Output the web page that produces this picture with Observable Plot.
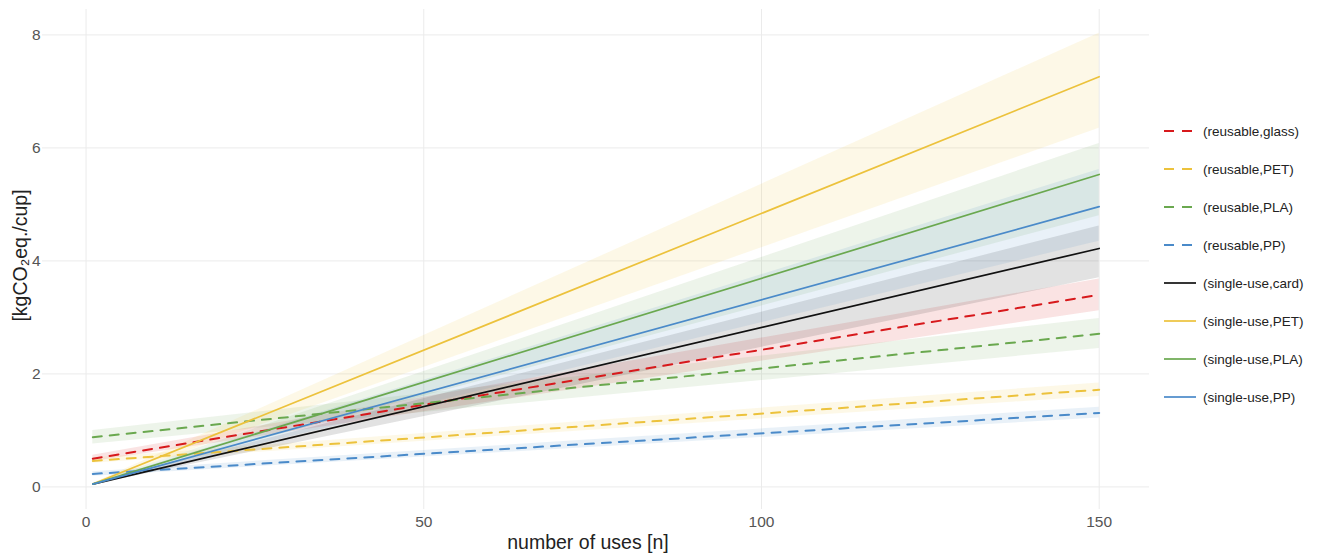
<!DOCTYPE html>
<html>
<head>
<meta charset="utf-8">
<script src="https://cdn.jsdelivr.net/npm/d3@7"></script>
<script src="https://cdn.jsdelivr.net/npm/@observablehq/plot@0.6"></script>
<style>
  html, body { margin: 0; padding: 0; background: #fff; }
  #wrap { position: relative; width: 1343px; height: 559px; font-family: "Liberation Sans", Arial, sans-serif; }
  #legend { position: absolute; left: 1160px; top: 112px; }
</style>
</head>
<body>
<div id="wrap"></div>
<script>
// Cup types: (use pattern, material)
const series = [
  "(reusable,glass)", "(reusable,PET)", "(reusable,PLA)", "(reusable,PP)",
  "(single-use,card)", "(single-use,PET)", "(single-use,PLA)", "(single-use,PP)"
];
const reusable = [true, true, true, true, false, false, false, false];
const colors = ["#d7191c", "#ecc23c", "#6aa84f", "#4a8ac9", "#111111", "#ecc23c", "#6aa84f", "#4a8ac9"];

// Number of uses at the two ends of each fitted line
const uses = [1, 150];

// Cumulative footprint [kgCO2eq./cup] at n = 1 and n = 150, with uncertainty band
const meanStart = [0.50, 0.46, 0.88, 0.23, 0.05, 0.05, 0.05, 0.05];
const meanEnd   = [3.40, 1.72, 2.71, 1.31, 4.22, 7.26, 5.53, 4.96];
const lowStart  = [0.45, 0.42, 0.76, 0.19, 0.04, 0.04, 0.04, 0.04];
const highStart = [0.56, 0.51, 1.00, 0.27, 0.06, 0.06, 0.06, 0.06];
const lowEnd    = [3.12, 1.60, 2.45, 1.22, 3.70, 6.35, 4.80, 4.35];
const highEnd   = [3.68, 1.84, 2.98, 1.41, 4.62, 8.03, 6.08, 5.62];

const xTicks = [0, 50, 100, 150];
const yTicks = [0, 2, 4, 6, 8];
const xTitle = "number of uses [n]";
const yTitle = "[kgCO₂eq./cup]";

// Long table: one row per series per end point
const rows = [];
series.forEach((s, i) => {
  rows.push({series: s, reusable: reusable[i], n: uses[0], mean: meanStart[i], lo: lowStart[i], hi: highStart[i]});
  rows.push({series: s, reusable: reusable[i], n: uses[1], mean: meanEnd[i], lo: lowEnd[i], hi: highEnd[i]});
});

const colorScale = {domain: series, range: colors};

const chart = Plot.plot({
  width: 1343,
  height: 559,
  marginLeft: 42,
  marginRight: 194,
  marginTop: 9,
  marginBottom: 50,
  style: {fontFamily: '"Liberation Sans", Arial, sans-serif', fontSize: "15.5px", color: "#555", background: "#fff"},
  x: {domain: [-6.45, 157.45], ticks: xTicks, tickSize: 0, tickPadding: 6, label: null},
  y: {domain: [-0.4, 8.45], ticks: yTicks, tickSize: 0, tickPadding: 2, label: null},
  color: colorScale,
  marks: [
    Plot.ruleX(xTicks, {stroke: "#ebebeb", strokeWidth: 1}),
    Plot.ruleY(yTicks, {stroke: "#ebebeb", strokeWidth: 1}),
    Plot.areaY(rows, {x: "n", y1: "lo", y2: "hi", z: "series", fill: "series", fillOpacity: 0.12}),
    Plot.line(rows.filter(d => d.reusable), {x: "n", y: "mean", z: "series", stroke: "series", strokeWidth: 2, strokeDasharray: "9,8"}),
    Plot.line(rows.filter(d => !d.reusable), {x: "n", y: "mean", z: "series", stroke: "series", strokeWidth: 1.7}),
    Plot.text([xTitle], {text: d => d, frameAnchor: "bottom", dy: 39, dx: -8, fontSize: 19.5, fill: "#222"}),
    Plot.text([yTitle], {text: d => d, frameAnchor: "left", textAnchor: "middle", dx: -22, dy: -4, rotate: -90, fontSize: 19.5, fill: "#222"})
  ]
});

const wrap = document.getElementById("wrap");
wrap.appendChild(chart);

// Legend: one key per series
const rowH = 38;
const leg = d3.create("svg")
  .attr("id", "legend")
  .attr("width", 183)
  .attr("height", rowH * series.length)
  .style("font-family", '"Liberation Sans", Arial, sans-serif')
  .style("font-size", "13.5px");
const g = leg.selectAll("g").data(series).join("g")
  .attr("transform", (d, i) => `translate(0,${i * rowH + rowH / 2})`);
g.append("line")
  .attr("x1", 4).attr("x2", 36).attr("y1", 0).attr("y2", 0)
  .attr("stroke", (d, i) => colors[i])
  .attr("stroke-width", (d, i) => reusable[i] ? 2 : 1.7)
  .attr("stroke-dasharray", (d, i) => reusable[i] ? "10,8" : null);
g.append("text")
  .attr("x", 43).attr("y", 0).attr("dy", "0.35em")
  .attr("fill", "#222")
  .text(d => d);
wrap.appendChild(leg.node());
</script>
</body>
</html>
